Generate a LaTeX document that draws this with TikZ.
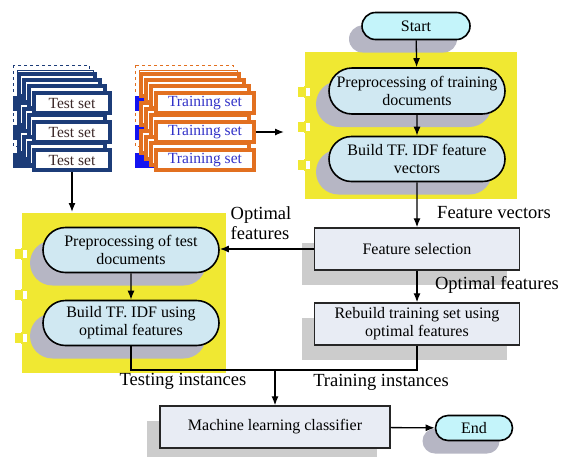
\documentclass[tikz,border=0pt]{standalone}
\usepackage{fontspec}
\setmainfont{Liberation Serif}
\usetikzlibrary{shapes.misc,shadows,arrows.meta}
\definecolor{panelyellow}{RGB}{240,232,50}
\definecolor{pillfill}{RGB}{208,232,242}
\definecolor{termfill}{RGB}{196,244,250}
\definecolor{rectfill}{RGB}{232,236,244}
\definecolor{pillshadow}{RGB}{182,182,196}
\definecolor{rectshadow}{RGB}{204,204,204}
\definecolor{testframe}{RGB}{28,60,120}
\definecolor{trainframe}{RGB}{226,112,32}
\definecolor{trainblob}{RGB}{20,20,240}
\definecolor{testtext}{RGB}{60,40,40}
\definecolor{traintext}{RGB}{50,50,200}

\begin{document}
\begin{tikzpicture}[x=1pt,y=-1pt,
  box text/.style={font=\fontsize{16}{18}\selectfont, align=center, text=black},
  pill/.style={rounded rectangle, draw=black, line width=1.6pt, fill=pillfill, box text, inner sep=0pt,
     drop shadow={shadow xshift=-13pt, shadow yshift=-13pt, fill=pillshadow, opacity=1}},
  terminal/.style={pill, fill=termfill},
  procbox/.style={rectangle, draw=black!85, line width=1.4pt, fill=rectfill, box text, inner sep=0pt,
     drop shadow={shadow xshift=-13pt, shadow yshift=-15pt, fill=rectshadow, opacity=1}},
  flow/.style={line width=1.3pt, -{Latex[length=9pt,width=7pt]}},
  link/.style={line width=1.3pt},
  label text/.style={font=\fontsize{18.5}{20}\selectfont, align=left, inner sep=0pt},
  panel/.style={fill=panelyellow, draw=none},
  tab/.style={fill=white, draw=panelyellow, line width=1.5pt}
]
% canvas
\useasboundingbox (0,0) rectangle (561,456);
\fill[white] (0,0) rectangle (561,456);

% yellow group panels with their side tabs
\fill[panel] (305,52) rectangle (517,199);
\fill[panel] (22,213) rectangle (226,373);
\foreach \ty in {87,122,160}{
  \fill[panelyellow] (298,\ty) rectangle ++(7,10);
  \draw[tab] (305,\ty) rectangle ++(6,10);
}
\foreach \ty in {249,290,333}{
  \fill[panelyellow] (15,\ty) rectangle ++(7,10);
  \draw[tab] (22,\ty) rectangle ++(6,10);
}

% document stacks
\foreach \cx/\w/\fr/\bl/\tc/\cap/\nm in {72/76/testframe/testframe/testtext/Test set/test,
                                         205/98/trainframe/trainblob/traintext/Training set/train}{
  \draw[\fr, dashed, line width=0.8pt] (\cx-\w/2-21,65) rectangle (\cx+\w/2-21,146);
  \draw[\fr, fill=white, line width=0.8pt] (\cx-\w/2-17,70) rectangle (\cx+\w/2-17,150);
  \foreach \ry in {103,132,160}{
    \fill[\bl, draw=white, line width=0.6pt] (\cx-\w/2-22,\ry-8) rectangle ++(30,16);
  }
  \foreach \i in {3,2,1}{
    \foreach \ry in {103,132,160}{
      \draw[\fr, fill=white, line width=3.4pt] (\cx-\w/2-5*\i,\ry-11-6*\i) rectangle ++(\w,22);
    }
  }
  \foreach \r/\ry in {1/103,2/132,3/160}{
    \node[draw=\fr, line width=3.4pt, fill=white, minimum width=\w, minimum height=20,
          inner sep=0pt, text=\tc, font=\fontsize{15.5}{17}\selectfont] (\nm\r) at (\cx,\ry) {\cap};
  }
}

% training pipeline
\node[terminal, minimum width=108, minimum height=27] (start) at (416,26) {Start};
\node[pill, minimum width=176, minimum height=46] (pretrain) at (417,91) {Preprocessing of training\\documents};
\node[pill, minimum width=176, minimum height=45] (buildtrain) at (417,159) {Build TF. IDF feature\\vectors};
\node[procbox, minimum width=205, minimum height=42] (featsel) at (417,249) {Feature selection};
\node[procbox, minimum width=205, minimum height=42] (rebuild) at (417,324) {Rebuild training set using\\optimal features};

% test pipeline
\node[pill, minimum width=176, minimum height=45] (pretest) at (131,250) {Preprocessing of test\\documents};
\node[pill, minimum width=176, minimum height=45] (buildtest) at (131,323) {Build TF. IDF using\\optimal features};

% classifier
\node[procbox, minimum width=230, minimum height=42] (mlc) at (275,427) {Machine learning classifier};
\node[terminal, minimum width=77, minimum height=25] (end) at (474,428) {End};

% connectors
\coordinate (trainout) at (284,132);
\coordinate (testin) at (72,212);
\coordinate (join) at (275,370);
\draw[flow] (train2.east) -- (trainout);
\draw[flow] (test3.south) -- (testin);
\draw[flow] (start) -- (pretrain);
\draw[flow] (pretrain) -- (buildtrain);
\draw[flow] (buildtrain) -- (featsel);
\draw[flow] (featsel) -- (rebuild);
\draw[flow] (featsel.west) -- (featsel.west -| pretest.east);
\draw[flow] (pretest) -- (buildtest);
\draw[link] (buildtest.south) |- (join);
\draw[link] (rebuild.south) |- (join);
\draw[flow] (join) -- (mlc.north);
\draw[flow] (mlc) -- (end);

% edge labels
\node[label text] (lblvec) at (494,213) {Feature vectors};
\node[label text] (lblopt) at (497,285) {Optimal features};
\node[label text] (lblopt2) at (261,223) {Optimal\\features};
\node[label text] (lbltest) at (183,381) {Testing instances};
\node[label text] (lbltrain) at (381,382) {Training instances};
\end{tikzpicture}
\end{document}
